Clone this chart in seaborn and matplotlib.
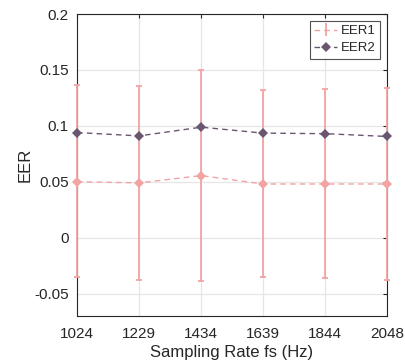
import matplotlib
matplotlib.use("Agg")
import matplotlib.pyplot as plt
import seaborn as sns
import pandas as pd
import numpy as np
from matplotlib.lines import Line2D

rates = [1024, 1229, 1434, 1639, 1844, 2048]
eer1 = [0.050, 0.049, 0.0555, 0.048, 0.048, 0.048]
eer1_upper = [0.1365, 0.1355, 0.150, 0.132, 0.1325, 0.134]
eer1_lower = [-0.0355, -0.0375, -0.039, -0.0355, -0.036, -0.0375]
eer2 = [0.094, 0.091, 0.0988, 0.0935, 0.093, 0.0905]
yticks = [-0.05, 0, 0.05, 0.1, 0.15, 0.2]
yticklabels = ["-0.05", "0", "0.05", "0.1", "0.15", "0.2"]

c1 = "#f4a3a3"
c2 = "#6b5670"

sns.set_style("whitegrid")
plt.rcParams["font.family"] = ["Liberation Sans", "DejaVu Sans"]

fig = plt.figure(figsize=(4.06, 3.64), dpi=100)
ax = fig.add_axes([0.19, 0.132, 0.763, 0.8295])

df = pd.DataFrame({"rate": rates * 2, "EER": eer1 + eer2,
                   "series": ["EER1"] * 6 + ["EER2"] * 6})

err_lo = np.array(eer1) - np.array(eer1_lower)
err_hi = np.array(eer1_upper) - np.array(eer1)
eb = ax.errorbar(rates, eer1, yerr=[err_lo, err_hi], fmt="none", ecolor=c1,
                 elinewidth=1.3, capsize=2.5, capthick=1.3, zorder=4)
for art in list(eb.lines[1]) + list(eb.lines[2]):
    art.set_clip_on(False)

sns.lineplot(data=df, x="rate", y="EER", hue="series", style="series",
             palette={"EER1": c1, "EER2": c2}, markers={"EER1": "D", "EER2": "D"},
             dashes={"EER1": (4, 3), "EER2": (4, 3)}, markersize=5,
             markeredgewidth=0, linewidth=1.0, ax=ax, legend=False, zorder=5)
for ln in ax.lines:
    ln.set_clip_on(False)

ax.set_xlim(1024, 2048)
ax.set_ylim(-0.07, 0.2)
ax.set_xticks(rates)
ax.set_xticklabels([str(r) for r in rates])
ax.set_yticks(yticks)
ax.set_yticklabels(yticklabels)
ax.set_xlabel("Sampling Rate fs (Hz)", fontsize=12, color="#262626", labelpad=3)
ax.set_ylabel("EER", fontsize=12, color="#262626", labelpad=1)
ax.tick_params(axis="both", direction="in", length=3, labelsize=11,
               colors="#262626", top=True, right=True)
ax.tick_params(axis="x", pad=8)
ax.tick_params(axis="y", pad=6)
ax.grid(True, color="#e6e6e6", linewidth=0.9)
for s in ax.spines.values():
    s.set_color("#262626")
    s.set_linewidth(0.8)
    s.set_zorder(1)
ax.set_facecolor("white")

h1b = ax.errorbar([], [], yerr=[], color=c1, linestyle=(0, (4, 3)), linewidth=1.0,
                  elinewidth=1.3, capsize=2.5)
h2 = Line2D([], [], color=c2, linestyle=(0, (4, 3)), marker="D", markersize=5,
            markeredgewidth=0, linewidth=1.0)
leg = ax.legend([h1b, h2], ["EER1", "EER2"], loc="upper right", fontsize=9.5,
                frameon=True, fancybox=False, edgecolor="#262626",
                handlelength=1.7, handletextpad=0.3, borderpad=0.35,
                labelspacing=0.35, borderaxespad=0.5)
leg.get_frame().set_linewidth(0.8)
leg.set_zorder(10)

fig.savefig("out.png", dpi=100, facecolor="white")
